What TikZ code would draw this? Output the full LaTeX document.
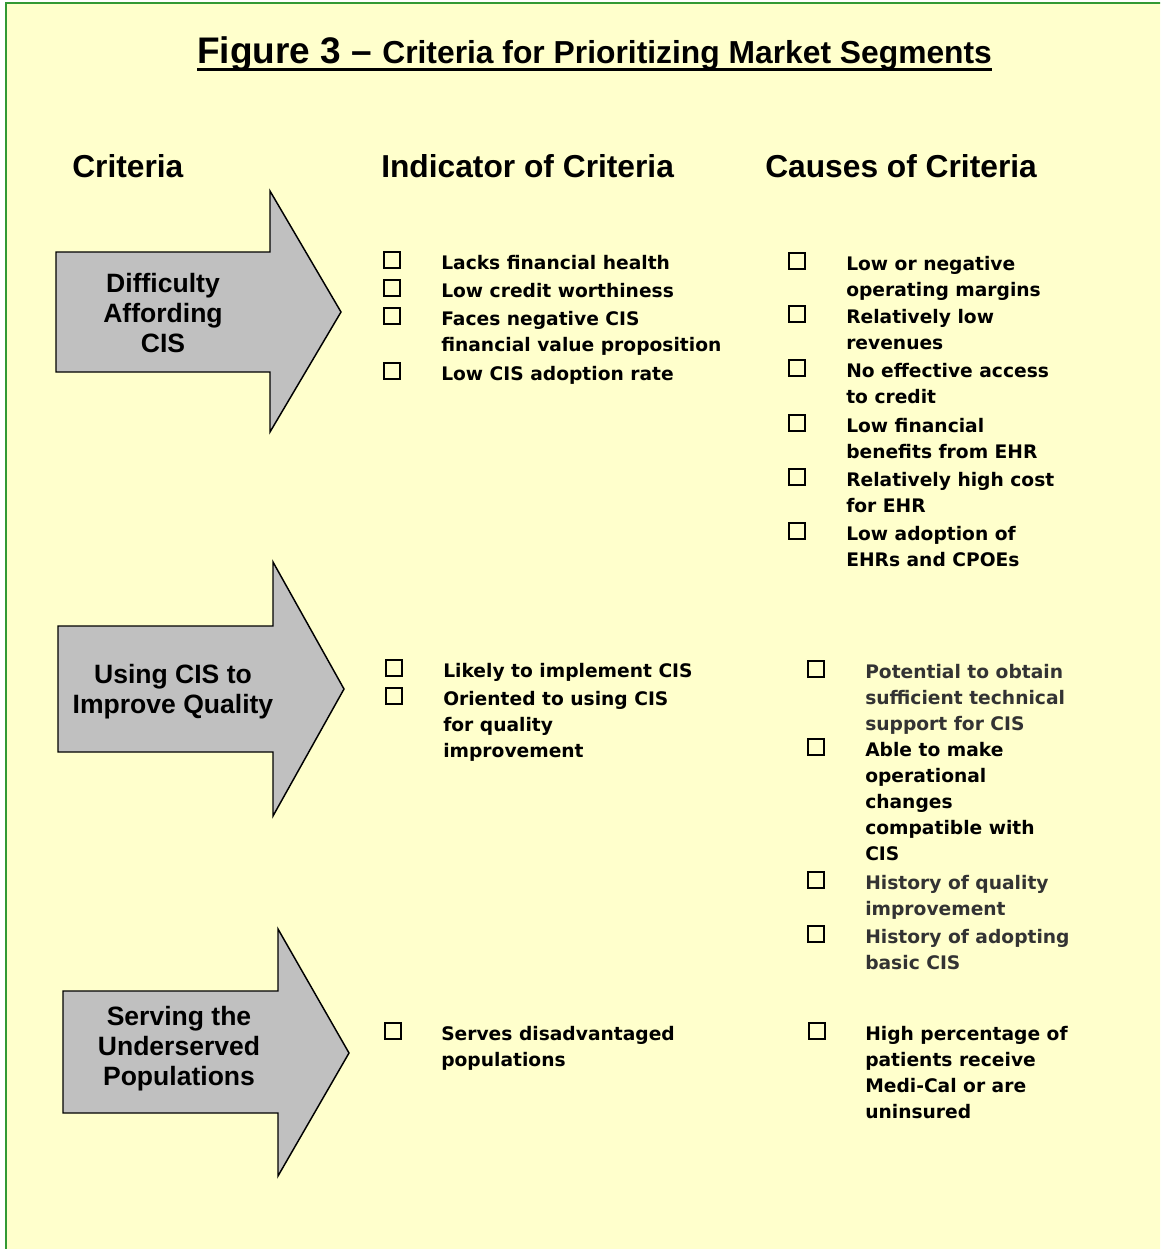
\documentclass[tikz,border=0pt]{standalone}
\usepackage{fontspec}
\setmainfont{Liberation Sans}
\newfontfamily\lfont{DejaVu Sans}
\definecolor{bgyellow}{HTML}{FFFFCC}
\definecolor{framegreen}{HTML}{339933}
\definecolor{arrowgray}{HTML}{C0C0C0}
\definecolor{darkgraytxt}{HTML}{333333}
\newcommand\itmlines[1]{\begin{tabular}[t]{@{}l@{}}#1\end{tabular}}
\newcommand\lbllines[1]{\begin{tabular}[t]{@{}c@{}}#1\end{tabular}}
\tikzset{
  hdr/.style={font=\fontsize{23.8}{28}\selectfont\bfseries, inner sep=0, anchor=base west},
  lbl/.style={font=\fontsize{19.9}{22.5}\selectfont\bfseries, inner sep=0, anchor=base},
  itm/.style={font=\lfont\fontsize{14}{19.5}\selectfont\bfseries, inner sep=0, anchor=base west},
  chk/.style={draw=black, line width=1.2pt, minimum size=12pt, inner sep=0},
  bigarrow/.style={fill=arrowgray, draw=black, line width=1.1pt, line join=miter}
}
\begin{document}
\begin{tikzpicture}[x=0.75pt,y=-0.75pt]
\useasboundingbox (0,0) rectangle (1160,1249);
\fill[white] (0,0) rectangle (1160,1249);
\begin{scope}
\clip (0,0) rectangle (1160,1249);
\draw[fill=bgyellow, draw=framegreen, line width=1.5pt] (6,3) rectangle (1175,1265);
\end{scope}

% title
\node[inner sep=0, anchor=base west] (title) at (197,63)
  {\bfseries{\fontsize{27.75}{30}\selectfont Figure 3 –\ }{\fontsize{23.85}{28}\selectfont Criteria for Prioritizing Market Segments}};
\draw[line width=2.25pt] ([yshift=-5.2pt]title.base west) -- ([yshift=-5.2pt]title.base east);

% headers
\node[hdr] (h1) at (72,177) {Criteria};
\node[hdr] (h2) at (381,177) {Indicator of Criteria};
\node[hdr] (h3) at (765,177) {Causes of Criteria};

% arrows
\draw[bigarrow] (56,252) -- (270,252) -- (270,191) -- (341,312) -- (270,432) -- (270,372) -- (56,372) -- cycle;
\draw[bigarrow] (58,626) -- (273,626) -- (273,562) -- (344,689) -- (273,816) -- (273,752) -- (58,752) -- cycle;
\draw[bigarrow] (63,991) -- (278,991) -- (278,929) -- (349,1053) -- (278,1176) -- (278,1113) -- (63,1113) -- cycle;

\node[lbl] (a1) at (163,292) {\lbllines{Difficulty\\Affording\\CIS}};
\node[lbl] (a2) at (173,683) {\lbllines{Using CIS to\\Improve Quality}};
\node[lbl] (a3) at (179,1025) {\lbllines{Serving the\\Underserved\\Populations}};

% section 1, indicators
\node[chk] (c11) at (392,260) {}; \node[itm] (t11) at (441,269) {\itmlines{Lacks financial health}};
\node[chk] (c12) at (392,288) {}; \node[itm] (t12) at (441,297) {\itmlines{Low credit worthiness}};
\node[chk] (c13) at (392,316) {}; \node[itm] (t13) at (441,325) {\itmlines{Faces negative CIS\\financial value proposition}};
\node[chk] (c14) at (392,371) {}; \node[itm] (t14) at (441,380) {\itmlines{Low CIS adoption rate}};

% section 1, causes
\node[chk] (d11) at (797,261) {}; \node[itm] (u11) at (846,270) {\itmlines{Low or negative\\operating margins}};
\node[chk] (d12) at (797,314) {}; \node[itm] (u12) at (846,323) {\itmlines{Relatively low\\revenues}};
\node[chk] (d13) at (797,368) {}; \node[itm] (u13) at (846,377) {\itmlines{No effective access\\to credit}};
\node[chk] (d14) at (797,423) {}; \node[itm] (u14) at (846,432) {\itmlines{Low financial\\benefits from EHR}};
\node[chk] (d15) at (797,477) {}; \node[itm] (u15) at (846,486) {\itmlines{Relatively high cost\\for EHR}};
\node[chk] (d16) at (797,531) {}; \node[itm] (u16) at (846,540) {\itmlines{Low adoption of\\EHRs and CPOEs}};

% section 2, indicators
\node[chk] (c21) at (394,668) {}; \node[itm] (t21) at (443,677) {\itmlines{Likely to implement CIS}};
\node[chk] (c22) at (394,696) {}; \node[itm] (t22) at (443,705) {\itmlines{Oriented to using CIS\\for quality\\improvement}};

% section 2, causes
\node[chk] (d21) at (816,669) {}; \node[itm, text=darkgraytxt] (u21) at (865,678) {\itmlines{Potential to obtain\\sufficient technical\\support for CIS}};
\node[chk] (d22) at (816,747) {}; \node[itm] (u22) at (865,756) {\itmlines{Able to make\\operational\\changes\\compatible with\\CIS}};
\node[chk] (d23) at (816,880) {}; \node[itm, text=darkgraytxt] (u23) at (865,889) {\itmlines{History of quality\\improvement}};
\node[chk] (d24) at (816,934) {}; \node[itm, text=darkgraytxt] (u24) at (865,943) {\itmlines{History of adopting\\basic CIS}};

% section 3
\node[chk] (c31) at (393,1031) {}; \node[itm] (t31) at (441,1040) {\itmlines{Serves disadvantaged\\populations}};
\node[chk] (d31) at (817,1031) {}; \node[itm] (u31) at (865,1040) {\itmlines{High percentage of\\patients receive\\Medi-Cal or are\\uninsured}};
\end{tikzpicture}
\end{document}
